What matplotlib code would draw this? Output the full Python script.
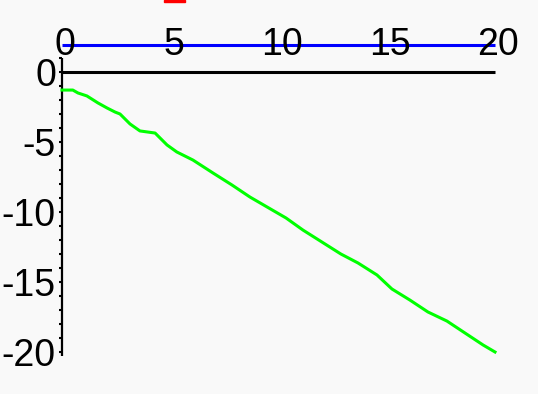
import matplotlib
matplotlib.use("Agg")
import matplotlib.pyplot as plt
from matplotlib.patches import Rectangle

# Curve data
x_curve = [0.0, 0.5, 0.74, 1.15, 1.66, 2.08, 2.45, 2.68, 3.14, 3.6, 4.3, 4.85,
           5.3, 6.05, 6.97, 7.85, 8.68, 9.47, 10.35, 11.13, 12.0, 12.88, 13.67,
           14.55, 15.24, 16.07, 16.9, 17.78, 18.61, 19.45, 20.0]
y_curve = [-1.29, -1.29, -1.5, -1.71, -2.21, -2.57, -2.86, -3.0, -3.71, -4.21,
           -4.36, -5.21, -5.71, -6.29, -7.21, -8.07, -8.93, -9.64, -10.43,
           -11.29, -12.14, -13.0, -13.64, -14.5, -15.5, -16.29, -17.14, -17.79,
           -18.64, -19.5, -20.0]
x_level = [0, 20]
y_level = [1.93, 1.93]

x_ticks = [0, 5, 10, 15, 20]
x_labels = ["0", "5", "10", "15", "20"]
y_ticks = [0, -5, -10, -15, -20]
y_labels = ["0", "-5", "-10", "-15", "-20"]

W, H = 538, 394
fig = plt.figure(figsize=(W / 100, H / 100), dpi=100, facecolor="#f9f9f9")
ax = fig.add_axes([62 / W, (H - 352) / H, 433 / W, 280 / H])
ax.set_xlim(0, 20)
ax.set_ylim(-20, 0)
ax.set_facecolor("none")
for s in ax.spines.values():
    s.set_visible(False)
ax.set_xticks([])
ax.set_yticks([])

font = dict(family=["Liberation Sans", "DejaVu Sans"], fontsize=27, color="black")

# vertical axis with unit ticks
ax.plot([0, 0], [1.0, -20.3], color="black", lw=1.6, clip_on=False,
        solid_capstyle="butt")
for t in range(1, -21, -1):
    ax.plot([-0.15, 0], [t, t], color="black", lw=1.5, clip_on=False,
            solid_capstyle="butt")

# horizontal axis
ax.plot([0, 20], [0, 0], color="black", lw=2.2, clip_on=False,
        solid_capstyle="butt")

# blue level line and green curve
ax.plot(x_level, y_level, color="#0000ff", lw=2.2, clip_on=False,
        solid_capstyle="butt")
ax.plot(x_curve, y_curve, color="#00ff00", lw=2.2, clip_on=False)

for xv, lab in zip(x_ticks, x_labels):
    ax.text(xv + 0.15, 1.93, lab, ha="center", va="center", clip_on=False, **font)
for yv, lab in zip(y_ticks, y_labels):
    ax.text(-0.28, yv - 0.3, lab, ha="right", va="center", clip_on=False, **font)

# red title fragment at the top edge
fig.patches.append(Rectangle((164 / W, 1 - 2 / H), 21 / W, 2 / H,
                             transform=fig.transFigure, color="#ff0000"))

fig.savefig("out.png", dpi=100, facecolor=fig.get_facecolor())
